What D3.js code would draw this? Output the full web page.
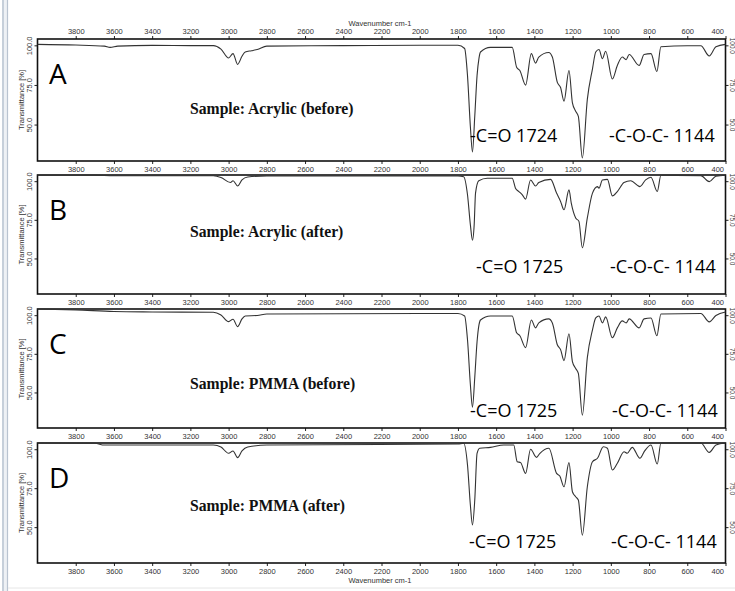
<!DOCTYPE html>
<html>
<head>
    <script src="https://cdnjs.cloudflare.com/ajax/libs/d3/7.8.5/d3.min.js"></script>
    <style>
        body { margin: 0; background: #fff; }
        .tick-label { font-family: "Liberation Sans", Arial, sans-serif; font-size: 7.5px; fill: #333; }
        .letter { font-family: "Open Sans", "Noto Sans", sans-serif; font-size: 28px; fill: #000; }
        .sample { font-family: "Liberation Serif", "Times New Roman", serif; font-weight: bold; font-size: 15.7px; fill: #111; }
        .peak { font-family: "Open Sans", "Noto Sans", sans-serif; font-size: 18px; fill: #000; }
        .spectrum { fill: none; stroke: #333; stroke-width: 1.1; }
    </style>
</head>
<body>
    <svg id="chart" width="735" height="591"></svg>

    <script>
        // spectra, wavenumber (cm-1) and transmittance (%)
        const wnA = [4000, 3800, 3650, 3620, 3580, 3400, 3200, 3080, 3040, 3000, 2977, 2953, 2930, 2913, 2880, 2850, 2800, 2400, 2000, 1800, 1765, 1750, 1735, 1724, 1712, 1700, 1690, 1682, 1630, 1516, 1493, 1476, 1446, 1416, 1394, 1377, 1325, 1306, 1280, 1263, 1245, 1219, 1201, 1184, 1170, 1149, 1123, 1096, 1079, 1062, 1044, 1027, 992, 966, 940, 920, 904, 852, 826, 790, 759, 738, 600, 529, 485, 450, 400];
        const tA = [100.6, 100.2, 99.5, 98.7, 99.5, 100.0, 99.8, 99.8, 97.6, 92.0, 94.8, 88.0, 93.1, 95.8, 96.6, 97.4, 99.5, 99.8, 100.1, 100.1, 98.0, 80.9, 48.8, 32.7, 55.2, 80.9, 91.8, 95.8, 98.7, 98.7, 86.2, 84.1, 74.9, 94.8, 88.8, 92.6, 95.5, 92.6, 76.6, 73.4, 64.8, 84.1, 63.7, 58.4, 55.2, 28.9, 65.9, 85.2, 95.8, 97.4, 91.6, 96.3, 78.8, 87.3, 92.6, 91.0, 94.2, 87.3, 94.2, 94.8, 83.5, 99.1, 99.7, 99.7, 93.3, 99.1, 100.6];

        const wnB = [4000, 3700, 3600, 3080, 3040, 2990, 2977, 2953, 2930, 2900, 2800, 1800, 1770, 1750, 1735, 1724, 1715, 1708, 1691, 1647, 1516, 1499, 1481, 1463, 1446, 1420, 1394, 1377, 1315, 1284, 1263, 1245, 1219, 1207, 1184, 1167, 1149, 1123, 1096, 1070, 1062, 1044, 1018, 992, 966, 931, 896, 848, 818, 790, 757, 738, 529, 485, 450, 400];
        const tB = [103.8, 103.8, 103.5, 103.5, 102.4, 99.1, 100.3, 96.9, 100.8, 102.7, 103.4, 103.4, 102.9, 91.2, 71.9, 61.8, 71.9, 92.3, 100.3, 101.9, 101.9, 95.5, 93.3, 91.2, 88.4, 100.8, 96.9, 99.1, 101.2, 92.3, 86.9, 81.5, 94.4, 85.8, 76.2, 74.0, 56.9, 76.2, 92.3, 96.5, 95.5, 100.8, 101.2, 90.5, 93.3, 99.1, 100.3, 96.5, 100.8, 102.5, 93.3, 103.8, 103.6, 99.7, 103.2, 103.8];

        const wnC = [4000, 3800, 3600, 3400, 3080, 3040, 3000, 2977, 2953, 2930, 2913, 2850, 2800, 2000, 1800, 1765, 1750, 1735, 1724, 1712, 1700, 1690, 1682, 1630, 1516, 1493, 1476, 1446, 1416, 1394, 1377, 1325, 1306, 1280, 1263, 1245, 1219, 1201, 1184, 1170, 1149, 1123, 1096, 1079, 1062, 1044, 1027, 992, 966, 940, 920, 904, 852, 826, 790, 759, 738, 529, 485, 450, 400];
        const tC = [104, 103.4, 102.4, 102.1, 101.9, 100.1, 95.8, 97.4, 92.6, 97.6, 99.5, 99.8, 100.8, 101.1, 101.1, 99.5, 84.1, 55.2, 40.4, 59.7, 82.8, 93.7, 96.9, 99.5, 99.5, 88.6, 86.7, 79.0, 96.9, 91.8, 95.0, 97.6, 95.0, 80.9, 77.7, 70.6, 88.0, 70.0, 65.5, 62.3, 35.3, 72.5, 90.5, 98.2, 99.5, 95.0, 98.9, 85.4, 91.8, 96.3, 95.0, 97.6, 91.8, 97.6, 98.2, 86.7, 100.8, 101.1, 95.7, 99.8, 102.1];

        const wnD = [4000, 3700, 3650, 3080, 3040, 3000, 2977, 2953, 2930, 2900, 2800, 1800, 1770, 1750, 1735, 1724, 1712, 1700, 1686, 1630, 1560, 1508, 1490, 1472, 1446, 1420, 1389, 1371, 1324, 1284, 1267, 1245, 1219, 1201, 1184, 1170, 1149, 1123, 1096, 1070, 1039, 1018, 992, 966, 931, 914, 888, 848, 822, 790, 757, 738, 529, 485, 450, 400];
        const tD = [104, 103.8, 102.7, 102.7, 101.4, 97.4, 98.9, 94.6, 98.9, 101.4, 102.7, 103.4, 103.8, 89.9, 64.2, 51.4, 67.4, 97.4, 100.6, 101.2, 102.7, 102.7, 92.0, 91.4, 84.5, 100.0, 94.8, 97.4, 100.6, 84.5, 82.8, 75.9, 91.4, 72.7, 69.5, 67.4, 44.9, 75.9, 92.0, 94.2, 101.6, 100.6, 86.7, 91.0, 98.4, 97.4, 101.2, 94.2, 99.1, 102.7, 90.5, 104, 104, 98.0, 102.7, 104];

        const panelLetters = ["A", "B", "C", "D"];
        const sampleNames = ["Sample: Acrylic (before)", "Sample: Acrylic (after)", "Sample: PMMA (before)", "Sample: PMMA (after)"];
        const carbonylLabels = ["-C=O 1724", "-C=O 1725", "-C=O 1725", "-C=O 1725"];
        const etherLabels = ["-C-O-C- 1144", "-C-O-C- 1144", "-C-O-C- 1144", "-C-O-C- 1144"];
        const xTicks = [3800, 3600, 3400, 3200, 3000, 2800, 2600, 2400, 2200, 2000, 1800, 1600, 1400, 1200, 1000, 800, 600, 400];
        const yTicks = [100, 75, 50];
        const axisTitle = "Wavenumber cm-1";
        const yTitle = "Transmittance [%]";

        const spectra = [[wnA, tA], [wnB, tB], [wnC, tC], [wnD, tD]];

        // panel layout
        const panels = [
            { top: 39, bottom: 161, coX: 470, coY: 142, ethX: 609, sampleY: 114 },
            { top: 175, bottom: 294, coX: 476, coY: 273, ethX: 610, sampleY: 237 },
            { top: 309, bottom: 428, coX: 470, coY: 417, ethX: 612, sampleY: 389 },
            { top: 443, bottom: 563, coX: 469, coY: 548, ethX: 611, sampleY: 511 }
        ];

        const svg = d3.select("#chart");
        const left = 37.5, right = 725.5;
        const x = d3.scaleLinear().domain([4000, 400]).range([left, right]);

        // window frame on the left
        svg.append("rect").attr("x", 2).attr("y", 0).attr("width", 6).attr("height", 591).attr("fill", "#eef1f5");
        svg.append("line").attr("x1", 3).attr("x2", 3).attr("y1", 0).attr("y2", 591).attr("stroke", "#b9c3d0").attr("stroke-width", 1.5);
        svg.append("line").attr("x1", 7.5).attr("x2", 7.5).attr("y1", 0).attr("y2", 591).attr("stroke", "#b9c3d0").attr("stroke-width", 1.2);
        svg.append("line").attr("x1", 8).attr("x2", 735).attr("y1", 588).attr("y2", 588).attr("stroke", "#e6e6e6");

        function styleAxis(g) {
            g.select(".domain").remove();
            g.selectAll(".tick line").attr("stroke", "#222");
            g.selectAll(".tick text").attr("class", "tick-label").attr("fill", null);
        }

        panels.forEach((p, i) => {
            const y = d3.scaleLinear().domain([27, 104]).range([p.bottom, p.top]);
            const g = svg.append("g");

            // bottom axis
            const bx = g.append("g")
                .attr("transform", `translate(0,${p.bottom})`)
                .call(d3.axisBottom(x).tickValues(xTicks).tickSize(3).tickPadding(3).tickFormat(d3.format("d")));
            styleAxis(bx);
            bx.selectAll(".tick text").filter(d => d === 400).attr("text-anchor", "end").attr("dx", -2);

            if (i === 0) {
                const tx = g.append("g")
                    .attr("transform", `translate(0,${p.top})`)
                    .call(d3.axisTop(x).tickValues(xTicks).tickSize(3).tickPadding(2).tickFormat(d3.format("d")));
                styleAxis(tx);
                tx.selectAll(".tick text").filter(d => d === 400).attr("text-anchor", "end").attr("dx", -2);
                g.append("text").attr("class", "tick-label").attr("x", 380).attr("y", 25.5)
                    .attr("text-anchor", "middle").text(axisTitle);
            }
            if (i === 3) {
                g.append("text").attr("class", "tick-label").attr("x", 380).attr("y", 582.5)
                    .attr("text-anchor", "middle").text(axisTitle);
            }

            // left axis
            const ly = g.append("g")
                .attr("transform", `translate(${left},0)`)
                .call(d3.axisLeft(y).tickValues(yTicks).tickSize(3).tickFormat(d3.format(".1f")));
            styleAxis(ly);
            ly.selectAll(".tick text")
                .attr("x", null).attr("dy", null)
                .attr("text-anchor", "middle")
                .attr("transform", "translate(-6,0) rotate(-90)");

            // right axis, labels squeezed against the page edge
            const ry = g.append("g")
                .attr("transform", `translate(${right},0)`)
                .call(d3.axisRight(y).tickValues(yTicks).tickSize(3).tickFormat(d3.format(".1f")));
            styleAxis(ry);
            ry.selectAll(".tick text")
                .attr("x", null).attr("dy", null)
                .attr("text-anchor", "middle")
                .attr("fill", "#8b3a2a")
                .style("font-size", "6.5px")
                .attr("transform", "translate(4.5,0) rotate(90)");

            g.append("text").attr("class", "tick-label")
                .attr("transform", `translate(24,${(p.top + p.bottom) / 2}) rotate(-90)`)
                .attr("text-anchor", "middle").text(yTitle);

            // frame
            g.append("rect")
                .attr("x", left).attr("y", p.top)
                .attr("width", right - left).attr("height", p.bottom - p.top)
                .attr("fill", "none").attr("stroke", "#111").attr("stroke-width", 1.6);

            // spectrum
            const [wn, tr] = spectra[i];
            const line = d3.line()
                .x(d => x(d[0]))
                .y(d => y(d[1]))
                .curve(d3.curveMonotoneX);
            g.append("path")
                .attr("class", "spectrum")
                .attr("d", line(d3.zip(wn, tr).sort((a, b) => a[0] - b[0])));

            // labels
            g.append("text").attr("class", "letter").attr("x", 49).attr("y", p.top + 45).text(panelLetters[i]);
            g.append("text").attr("class", "sample").attr("x", 190).attr("y", p.sampleY).text(sampleNames[i]);
            g.append("text").attr("class", "peak").attr("x", p.coX).attr("y", p.coY).text(carbonylLabels[i]);
            g.append("text").attr("class", "peak").attr("x", p.ethX).attr("y", p.coY).text(etherLabels[i]);
        });
    </script>
</body>
</html>
